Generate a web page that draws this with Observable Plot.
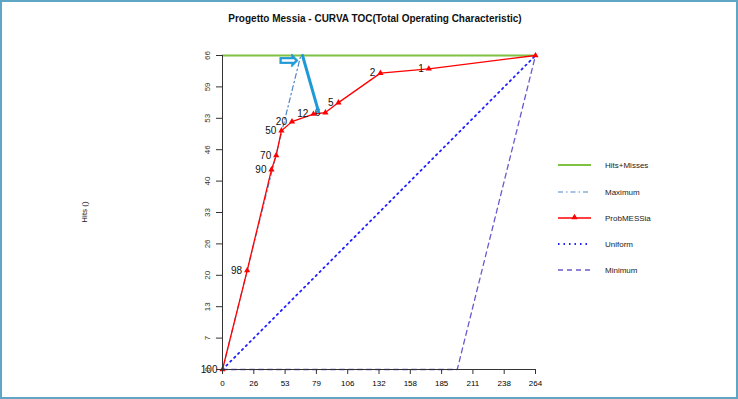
<!DOCTYPE html>
<html>
<head>
<meta charset="utf-8">
<script src="https://cdn.jsdelivr.net/npm/d3@7"></script>
<script src="https://cdn.jsdelivr.net/npm/@observablehq/plot@0.6"></script>
<style>
  html, body { margin: 0; padding: 0; background: #fff; }
  #wrap { position: relative; width: 738px; height: 399px; overflow: hidden; font-family: "Liberation Sans", Arial, sans-serif; }
  #border { position: absolute; left: 0; top: 0; width: 738px; height: 399px; box-sizing: border-box; border: 2px solid #5ea6c3; pointer-events: none; }
  #title { position: absolute; left: 0; width: 750px; top: 13px; text-align: center; font-weight: bold; font-size: 10px; color: #111; }
  #ylab { position: absolute; left: 84px; top: 212px; transform: translate(-50%, -50%) rotate(-90deg); font-size: 8px; color: #222; white-space: nowrap; }
  #chart { position: absolute; left: 0; top: 0; }
  #legend { position: absolute; left: 0; top: 0; }
</style>
</head>
<body>
<div id="wrap">
  <div id="chart"></div>
  <svg id="legend" width="738" height="399"></svg>
  <div id="title">Progetto Messia - CURVA TOC(Total Operating Characteristic)</div>
  <div id="ylab">Hits ()</div>
  <div id="border"></div>
</div>
<script>
// ---- data ----
const thresholds = ["100", "98", "90", "70", "50", "20", "12", "6", "5", "2", "1", ""];
const probX = [0, 20.8, 41.3, 45.3, 49.7, 58.6, 76.7, 86.8, 97.8, 133.2, 174.0, 264];
const probY = [0, 20.8, 42.0, 45.0, 50.2, 52.1, 53.7, 54.0, 56.1, 62.3, 63.2, 66];

const hmX = [0, 264];
const hmY = [66, 66];
const maxX = [0, 66, 264];
const maxY = [0, 66, 66];
const uniX = [0, 264];
const uniY = [0, 66];
const minX = [0, 198, 264];
const minY = [0, 0, 66];

const annLineX = [67.5, 81];
const annLineY = [66, 54.2];
const annArrowX = [56.0];
const annArrowY = [65.0];

const xTicks = [0, 26.4, 52.8, 79.2, 105.6, 132, 158.4, 184.8, 211.2, 237.6, 264];
const xTickLabels = ["0", "26", "53", "79", "106", "132", "158", "185", "211", "238", "264"];
const yTicks = [0, 6.6, 13.2, 19.8, 26.4, 33, 39.6, 46.2, 52.8, 59.4, 66];
const yTickLabels = ["0", "7", "13", "20", "26", "33", "40", "46", "53", "59", "66"];

const legendNames = ["Hits+Misses", "Maximum", "ProbMESSia", "Uniform", "Minimum"];

// ---- build ----
const pts = (xs, ys) => xs.map((x, i) => ({x, y: ys[i]}));
const prob = probX.map((x, i) => ({x, y: probY[i], label: thresholds[i]}));

const colors = {
  hm: "#7dc242",
  max: "#4a86c5",
  prob: "#ff0000",
  uni: "#2020ff",
  min: "#6a5acd",
  ann: "#1f9ad6"
};

const chart = Plot.plot({
  width: 738,
  height: 399,
  marginLeft: 222,
  marginRight: 203,
  marginTop: 55,
  marginBottom: 30,
  style: {fontFamily: "'Liberation Sans', Arial, sans-serif", background: "transparent"},
  x: {domain: [0, 264]},
  y: {domain: [0, 66]},
  marks: [
    Plot.line(pts(minX, minY), {x: "x", y: "y", stroke: colors.min, strokeWidth: 1.3, strokeDasharray: "5,4"}),
    Plot.line(pts(uniX, uniY), {x: "x", y: "y", stroke: colors.uni, strokeWidth: 1.8, strokeDasharray: "1.5,4"}),
    Plot.line(pts(maxX, maxY), {x: "x", y: "y", stroke: colors.max, strokeWidth: 1.2, strokeDasharray: "5,3,1.5,3"}),
    Plot.line(pts(hmX, hmY), {x: "x", y: "y", stroke: colors.hm, strokeWidth: 2}),
    Plot.line(prob, {x: "x", y: "y", stroke: colors.prob, strokeWidth: 1.3}),
    Plot.dot(prob, {x: "x", y: "y", symbol: "triangle", r: 2.3, fill: colors.prob, stroke: "none"}),
    Plot.text(prob, {x: "x", y: "y", text: "label", textAnchor: "end", dx: -5, dy: 0, fontSize: 10, fill: "#111"}),
    Plot.line(pts(annLineX, annLineY), {x: "x", y: "y", stroke: colors.ann, strokeWidth: 3}),
    Plot.text(pts(annArrowX, annArrowY), {x: "x", y: "y", text: () => "\u21E8", fontSize: 24, fontWeight: "bold", fill: colors.ann, stroke: colors.ann, strokeWidth: 0.6, fontFamily: "DejaVu Sans"}),
    Plot.ruleX([0], {y1: 0, y2: 66, stroke: "#333", strokeWidth: 1}),
    Plot.ruleY([0], {x1: 0, x2: 264, stroke: "#333", strokeWidth: 1}),
    Plot.axisX({ticks: xTicks, tickFormat: (d, i) => xTickLabels[i], tickSize: 5, tickPadding: 6, fontSize: 8, label: null, stroke: "#333"}),
    Plot.axisY({ticks: yTicks, tickFormat: () => "", tickSize: 6, label: null, stroke: "#333"}),
    Plot.text(yTicks, {y: d => d, frameAnchor: "left", dx: -15, rotate: -90, text: (d, i) => yTickLabels[i], fontSize: 8, fill: "#333", textAnchor: "middle", lineAnchor: "middle"})
  ]
});
document.getElementById("chart").appendChild(chart);

// ---- legend ----
const lg = d3.select("#legend");
const rowsY = [165, 192, 218, 244, 270];
const styles = [
  {stroke: colors.hm, w: 2, dash: null},
  {stroke: colors.max, w: 1.2, dash: "5,3,1.5,3"},
  {stroke: colors.prob, w: 1.3, dash: null, tri: true},
  {stroke: colors.uni, w: 1.8, dash: "1.5,4"},
  {stroke: colors.min, w: 1.3, dash: "5,4"}
];
legendNames.forEach((name, i) => {
  const s = styles[i];
  lg.append("line").attr("x1", 558).attr("x2", 591).attr("y1", rowsY[i]).attr("y2", rowsY[i])
    .attr("stroke", s.stroke).attr("stroke-width", s.w).attr("stroke-dasharray", s.dash);
  if (s.tri) lg.append("path").attr("d", d3.symbol(d3.symbolTriangle, 18)()).attr("transform", `translate(574.5,${rowsY[i] - 0.5})`).attr("fill", colors.prob);
  lg.append("text").attr("x", 605).attr("y", rowsY[i]).attr("dy", "0.35em").attr("font-size", 8).attr("fill", "#222").text(name);
});
</script>
</body>
</html>
